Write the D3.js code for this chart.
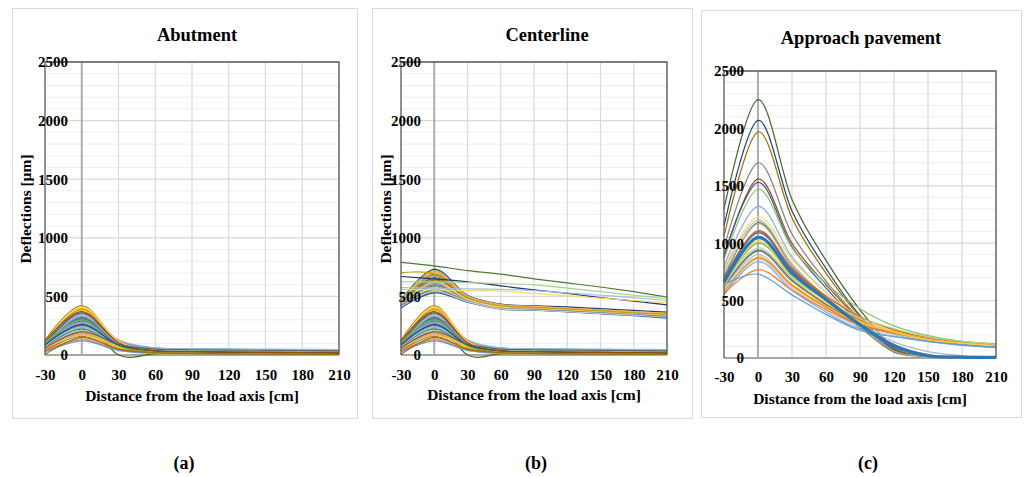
<!DOCTYPE html>
<html>
<head>
<meta charset="utf-8">
<script src="https://cdn.jsdelivr.net/npm/d3@7"></script>
<style>
  html, body { margin: 0; padding: 0; background: #fff; }
  svg { display: block; }
  text { font-family: "Liberation Serif", "Times New Roman", serif; font-weight: bold; fill: #000; }
</style>
</head>
<body>
<svg id="chart" width="1025" height="477"></svg>
<script>
// ---------------- DATA ----------------
const distances = [-30, 0, 30, 60, 90, 120, 150, 180, 210];
const xTickValues = [-30, 0, 30, 60, 90, 120, 150, 180, 210];
const yTickValues = [0, 500, 1000, 1500, 2000, 2500];
const panelTitles = ["Abutment", "Centerline", "Approach pavement"];
const panelCaptions = ["(a)", "(b)", "(c)"];
const xAxisTitle = "Distance from the load axis [cm]";
const yAxisTitle = "Deflections [µm]";

// Abutment deflection basins [µm] at the distances above
const abutmentSeries = [
  [110, 330, 110, 50, 40, 35, 30, 28, 25],
  [60, 190, 60, 20, 15, 12, 10, 10, 8],
  [90, 280, 100, 45, 40, 38, 35, 33, 30],
  [120, 400, 120, 45, 35, 30, 28, 25, 22],
  [100, 350, 120, 60, 50, 45, 42, 40, 38],
  [80, 250, 90, 50, 45, 42, 40, 38, 36],
  [115, 320, 100, 40, 30, 25, 22, 20, 18],
  [70, 240, 80, 30, 22, 18, 15, 14, 12],
  [105, 300, 90, 25, 18, 15, 12, 10, 10],
  [125, 420, 110, 35, 25, 20, 18, 15, 14],
  [95, 290, 95, 45, 38, 35, 32, 30, 28],
  [110, 310, 0, 10, 12, 12, 10, 10, 10],
  [85, 270, 90, 40, 35, 32, 30, 28, 26],
  [50, 180, 60, 25, 20, 18, 15, 14, 12],
  [100, 340, 130, 60, 52, 48, 45, 44, 42],
  [120, 380, 110, 40, 32, 28, 25, 24, 22],
  [90, 300, 120, 60, 55, 52, 50, 48, 46],
  [80, 230, 80, 45, 40, 38, 36, 35, 34],
  [100, 360, 100, 35, 25, 20, 18, 16, 15],
  [40, 160, 50, 15, 10, 8, 8, 6, 6],
  [95, 260, 80, 30, 22, 18, 15, 14, 12],
  [110, 390, 120, 40, 30, 25, 22, 20, 18],
  [75, 220, 75, 35, 30, 28, 26, 25, 24],
  [105, 320, 85, 20, 14, 12, 12, 10, 10],
  [70, 280, 100, 50, 45, 42, 40, 38, 36],
  [30, 140, 40, 12, 8, 6, 5, 5, 4],
  [60, 210, 70, 30, 25, 22, 20, 18, 16],
  [115, 410, 115, 40, 30, 26, 24, 22, 20],
  [80, 240, 90, 55, 50, 48, 46, 45, 44],
  [55, 170, 80, 45, 42, 40, 38, 36, 35],
  [100, 310, 90, 35, 25, 20, 18, 16, 14],
  [35, 130, 45, 20, 15, 12, 10, 10, 8],
  [90, 330, 100, 30, 20, 16, 14, 12, 12],
  [65, 200, 65, 25, 18, 15, 12, 12, 10],
  [25, 120, 40, 15, 10, 8, 6, 5, 5],
  [100, 300, 80, 20, 12, 10, 10, 8, 8],
  [85, 260, 85, 35, 28, 24, 22, 20, 18],
  [120, 370, 105, 35, 28, 24, 22, 20, 18],
  [60, 200, 90, 50, 45, 42, 40, 38, 36],
  [5, 150, 50, 20, 14, 10, 8, 8, 6]
];

// Centerline deflection basins [µm]
const centerlineSeries = [
  [450, 700, 500, 430, 420, 405, 390, 375, 360],
  [430, 650, 480, 415, 405, 390, 375, 360, 345],
  [410, 560, 460, 400, 390, 375, 360, 345, 330],
  [470, 730, 510, 435, 420, 410, 395, 380, 365],
  [440, 620, 470, 410, 400, 385, 370, 355, 340],
  [420, 590, 465, 405, 395, 380, 365, 350, 335],
  [460, 690, 495, 425, 410, 395, 380, 365, 350],
  [400, 540, 455, 395, 385, 370, 355, 340, 320],
  [445, 660, 485, 420, 405, 390, 375, 360, 345],
  [435, 610, 475, 410, 398, 385, 370, 352, 338],
  [455, 710, 505, 430, 415, 400, 385, 370, 355],
  [425, 580, 468, 402, 392, 378, 362, 348, 330],
  [415, 570, 462, 398, 388, 372, 358, 342, 325],
  [450, 670, 490, 420, 408, 392, 378, 362, 348],
  [465, 720, 500, 428, 412, 398, 382, 368, 352],
  [405, 530, 450, 392, 382, 368, 352, 335, 315],
  [438, 640, 478, 412, 400, 388, 372, 356, 342],
  [428, 600, 470, 408, 396, 382, 368, 352, 336],
  [448, 680, 492, 424, 410, 396, 380, 364, 348],
  [418, 555, 458, 396, 386, 374, 360, 344, 328],
  [442, 630, 482, 416, 403, 389, 374, 358, 344],
  [432, 615, 473, 410, 399, 386, 371, 354, 339],
  [458, 700, 498, 426, 414, 399, 384, 369, 354],
  [412, 545, 455, 394, 384, 370, 356, 340, 322],
  [436, 625, 476, 411, 401, 387, 373, 357, 341],
  [700, 690, 490, 420, 405, 392, 376, 360, 346],
  [790, 760, 720, 690, 650, 615, 580, 540, 495],
  [670, 650, 625, 590, 555, 525, 490, 460, 428],
  [625, 622, 618, 610, 598, 570, 540, 510, 480],
  [575, 570, 565, 560, 550, 530, 510, 490, 465],
  [560, 555, 550, 545, 525, 505, 485, 465, 445]
];

// Approach pavement deflection basins [µm]
const approachSeries = [
  [1300, 2250, 1380, 850, 420, 90, 15, 10, 10],
  [1150, 2070, 1280, 780, 370, 80, 15, 10, 10],
  [1060, 1970, 1220, 740, 360, 80, 15, 10, 10],
  [960, 1700, 1080, 670, 340, 70, 15, 10, 10],
  [880, 1560, 1000, 640, 330, 70, 15, 10, 10],
  [900, 1530, 970, 610, 300, 60, 15, 10, 10],
  [860, 1470, 960, 650, 430, 280, 195, 145, 125],
  [800, 1320, 880, 570, 340, 210, 145, 110, 90],
  [780, 1230, 860, 570, 360, 250, 175, 135, 110],
  [760, 1200, 820, 530, 300, 140, 55, 20, 10],
  [700, 1180, 800, 520, 270, 50, 15, 10, 10],
  [720, 1170, 800, 530, 290, 60, 15, 10, 10],
  [690, 1110, 780, 540, 360, 245, 175, 130, 100],
  [680, 1100, 770, 520, 330, 215, 155, 120, 100],
  [680, 1090, 760, 500, 280, 90, 20, 10, 8],
  [650, 1040, 730, 510, 340, 230, 170, 130, 110],
  [640, 1000, 720, 500, 320, 220, 160, 120, 100],
  [620, 940, 680, 470, 300, 210, 150, 120, 100],
  [610, 930, 670, 460, 260, 110, 30, 10, 8],
  [600, 900, 640, 440, 300, 220, 170, 130, 110],
  [580, 880, 640, 450, 310, 230, 170, 140, 110],
  [570, 870, 630, 440, 290, 215, 160, 130, 110],
  [560, 860, 610, 420, 270, 205, 155, 125, 105],
  [550, 840, 590, 400, 250, 190, 145, 115, 95],
  [560, 770, 590, 420, 290, 220, 170, 140, 120],
  [640, 730, 550, 380, 240, 185, 145, 115, 95],
  [620, 1020, 700, 480, 320, 225, 160, 130, 110],
  [650, 960, 700, 500, 350, 255, 185, 145, 120],
  [660, 1050, 740, 510, 290, 110, 20, 8, 5]
];

// ---------------- STYLES ----------------
const excelPalette = ["#4472C4","#ED7D31","#A5A5A5","#FFC000","#5B9BD5","#70AD47",
  "#264478","#9E480E","#636363","#997300","#255E91","#43682B",
  "#698ED0","#F1975A","#B7B7B7","#FFCD33","#7CAFDD","#8CC168",
  "#335AA1","#D26012","#848484","#CC9A00","#327DC2","#5A8A39",
  "#8FAADC","#F4B183","#C9C9C9","#FFD966","#9DC3E6","#A9D18E"];
const centerlineOutlierColors = ["#C9A000","#4E7A2E","#203864","#A9D18E","#9DC3E6","#FFD966"];
const approachColors = ["#43682B","#264478","#997300","#7F7F7F","#9E480E","#335AA1",
  "#8CC168","#8FAADC","#FFD966","#B7B7B7","#5A8A39","#A5A5A5",
  "#D26012","#C55A11","#4472C4","#F4B183","#70AD47","#636363",
  "#848484","#9DC3E6","#FFC000","#ED7D31","#C9C9C9","#7CAFDD",
  "#ED7D31","#5B9BD5","#FFCD33","#A9D18E","#2E75B6"];

function colorsFor(series, offset) {
  return series.map((_, i) => excelPalette[(i + offset) % excelPalette.length]);
}
const abutmentColors = colorsFor(abutmentSeries, 0);
const centerlineColors = colorsFor(centerlineSeries.slice(0, 25), 3).concat(centerlineOutlierColors);

const layout = [
  { frame: [12, 8, 345, 410], plot: { l: 45, t: 62, r: 339, b: 355 }, labelRight: 68,
    titleX: 197, titleY: 41, xTickBase: 380, xTitleBase: 401, yTitleX: 31, capX: 184,
    groups: [{ s: abutmentSeries, c: abutmentColors }] },
  { frame: [372, 8, 320, 410], plot: { l: 401, t: 62, r: 667, b: 355 }, labelRight: 421,
    titleX: 547, titleY: 41, xTickBase: 380, xTitleBase: 400, yTitleX: 391, capX: 536,
    groups: [{ s: abutmentSeries, c: abutmentColors }, { s: centerlineSeries, c: centerlineColors }] },
  { frame: [701, 10, 320, 407], plot: { l: 724, t: 71, r: 996, b: 358 }, labelRight: 744,
    titleX: 861, titleY: 44, xTickBase: 382, xTitleBase: 404, yTitleX: null, capX: 868,
    groups: [{ s: approachSeries, c: approachColors, wide: approachSeries.length - 1 }] }
];

const FONT = "'Liberation Serif', 'Times New Roman', serif";

// ---------------- DRAW ----------------
const svg = d3.select("#chart");
svg.append("rect").attr("width", 1025).attr("height", 477).attr("fill", "#fff");

layout.forEach((p, pi) => {
  const g = svg.append("g");
  const { l, t, r, b } = p.plot;
  const x = d3.scaleLinear().domain([-30, 210]).range([l, r]);
  const y = d3.scaleLinear().domain([0, 2500]).range([b, t]);

  g.append("rect").attr("x", p.frame[0] + 0.5).attr("y", p.frame[1] + 0.5)
    .attr("width", p.frame[2]).attr("height", p.frame[3])
    .attr("fill", "#fff").attr("stroke", "#D9D9D9").attr("stroke-width", 1);

  // minor horizontal grid
  g.append("g").selectAll("line").data(d3.range(100, 2500, 100).filter(v => v % 500 !== 0))
    .join("line").attr("x1", l).attr("x2", r)
    .attr("y1", d => y(d)).attr("y2", d => y(d))
    .attr("stroke", "#EFEFEF").attr("stroke-width", 1);
  // major horizontal grid
  g.append("g").selectAll("line").data(yTickValues.slice(1))
    .join("line").attr("x1", l).attr("x2", r)
    .attr("y1", d => y(d)).attr("y2", d => y(d))
    .attr("stroke", "#D9D9D9").attr("stroke-width", 1.2);
  // vertical grid
  g.append("g").selectAll("line").data(xTickValues.filter(v => v !== -30 && v !== 0))
    .join("line").attr("y1", t).attr("y2", b)
    .attr("x1", d => x(d)).attr("x2", d => x(d))
    .attr("stroke", "#D9D9D9").attr("stroke-width", 1.2);
  // axis lines at x=0 and y=0
  g.append("line").attr("x1", x(0)).attr("x2", x(0)).attr("y1", t).attr("y2", b)
    .attr("stroke", "#A6A6A6").attr("stroke-width", 1.8);
  g.append("line").attr("x1", l).attr("x2", r).attr("y1", y(0)).attr("y2", y(0))
    .attr("stroke", "#A6A6A6").attr("stroke-width", 1.8);

  const line = d3.line().x((d, i) => x(distances[i])).y(d => y(d))
    .curve(d3.curveCardinal.tension(0));

  p.groups.forEach(grp => {
    g.append("g").selectAll("path").data(grp.s).join("path")
      .attr("d", d => line(d))
      .attr("fill", "none")
      .attr("stroke", (d, i) => grp.c[i % grp.c.length])
      .attr("stroke-width", (d, i) => (grp.wide === i ? 3.2 : 1.2));
  });

  // plot border (left, top, right)
  g.append("path").attr("d", `M${l},${b}V${t}H${r}V${b}`)
    .attr("fill", "none").attr("stroke", "#595959").attr("stroke-width", 1.3);

  // x axis tick labels
  const xAxis = d3.axisBottom(x).tickValues(xTickValues).tickSize(0).tickPadding(p.xTickBase - b - 10.6)
    .tickFormat(d => String(d));
  const xg = g.append("g").attr("transform", `translate(0,${b})`).call(xAxis)
    .attr("font-family", FONT).attr("font-size", 15).attr("font-weight", "bold");
  xg.select(".domain").remove();
  xg.selectAll("text").attr("fill", "#000");

  // y axis tick labels
  const yAxis = d3.axisLeft(y).tickValues(yTickValues).tickSize(0).tickPadding(0)
    .tickFormat(d => String(d));
  const yg = g.append("g").attr("transform", `translate(${p.labelRight},0)`).call(yAxis)
    .attr("font-family", FONT).attr("font-size", 15).attr("font-weight", "bold");
  yg.select(".domain").remove();
  yg.selectAll("text").attr("fill", "#000");

  // titles
  g.append("text").attr("x", p.titleX).attr("y", p.titleY).attr("text-anchor", "middle")
    .style("font-size", "18.5px").text(panelTitles[pi]);
  g.append("text").attr("x", (l + r) / 2).attr("y", p.xTitleBase).attr("text-anchor", "middle")
    .style("font-size", "15.5px").text(xAxisTitle);
  if (p.yTitleX !== null) {
    g.append("text").attr("transform", `translate(${p.yTitleX},209) rotate(-90)`)
      .attr("text-anchor", "middle").style("font-size", "15.5px").text(yAxisTitle);
  }
  svg.append("text").attr("x", p.capX).attr("y", 469).attr("text-anchor", "middle")
    .style("font-size", "18px").text(panelCaptions[pi]);
});
</script>
</body>
</html>
